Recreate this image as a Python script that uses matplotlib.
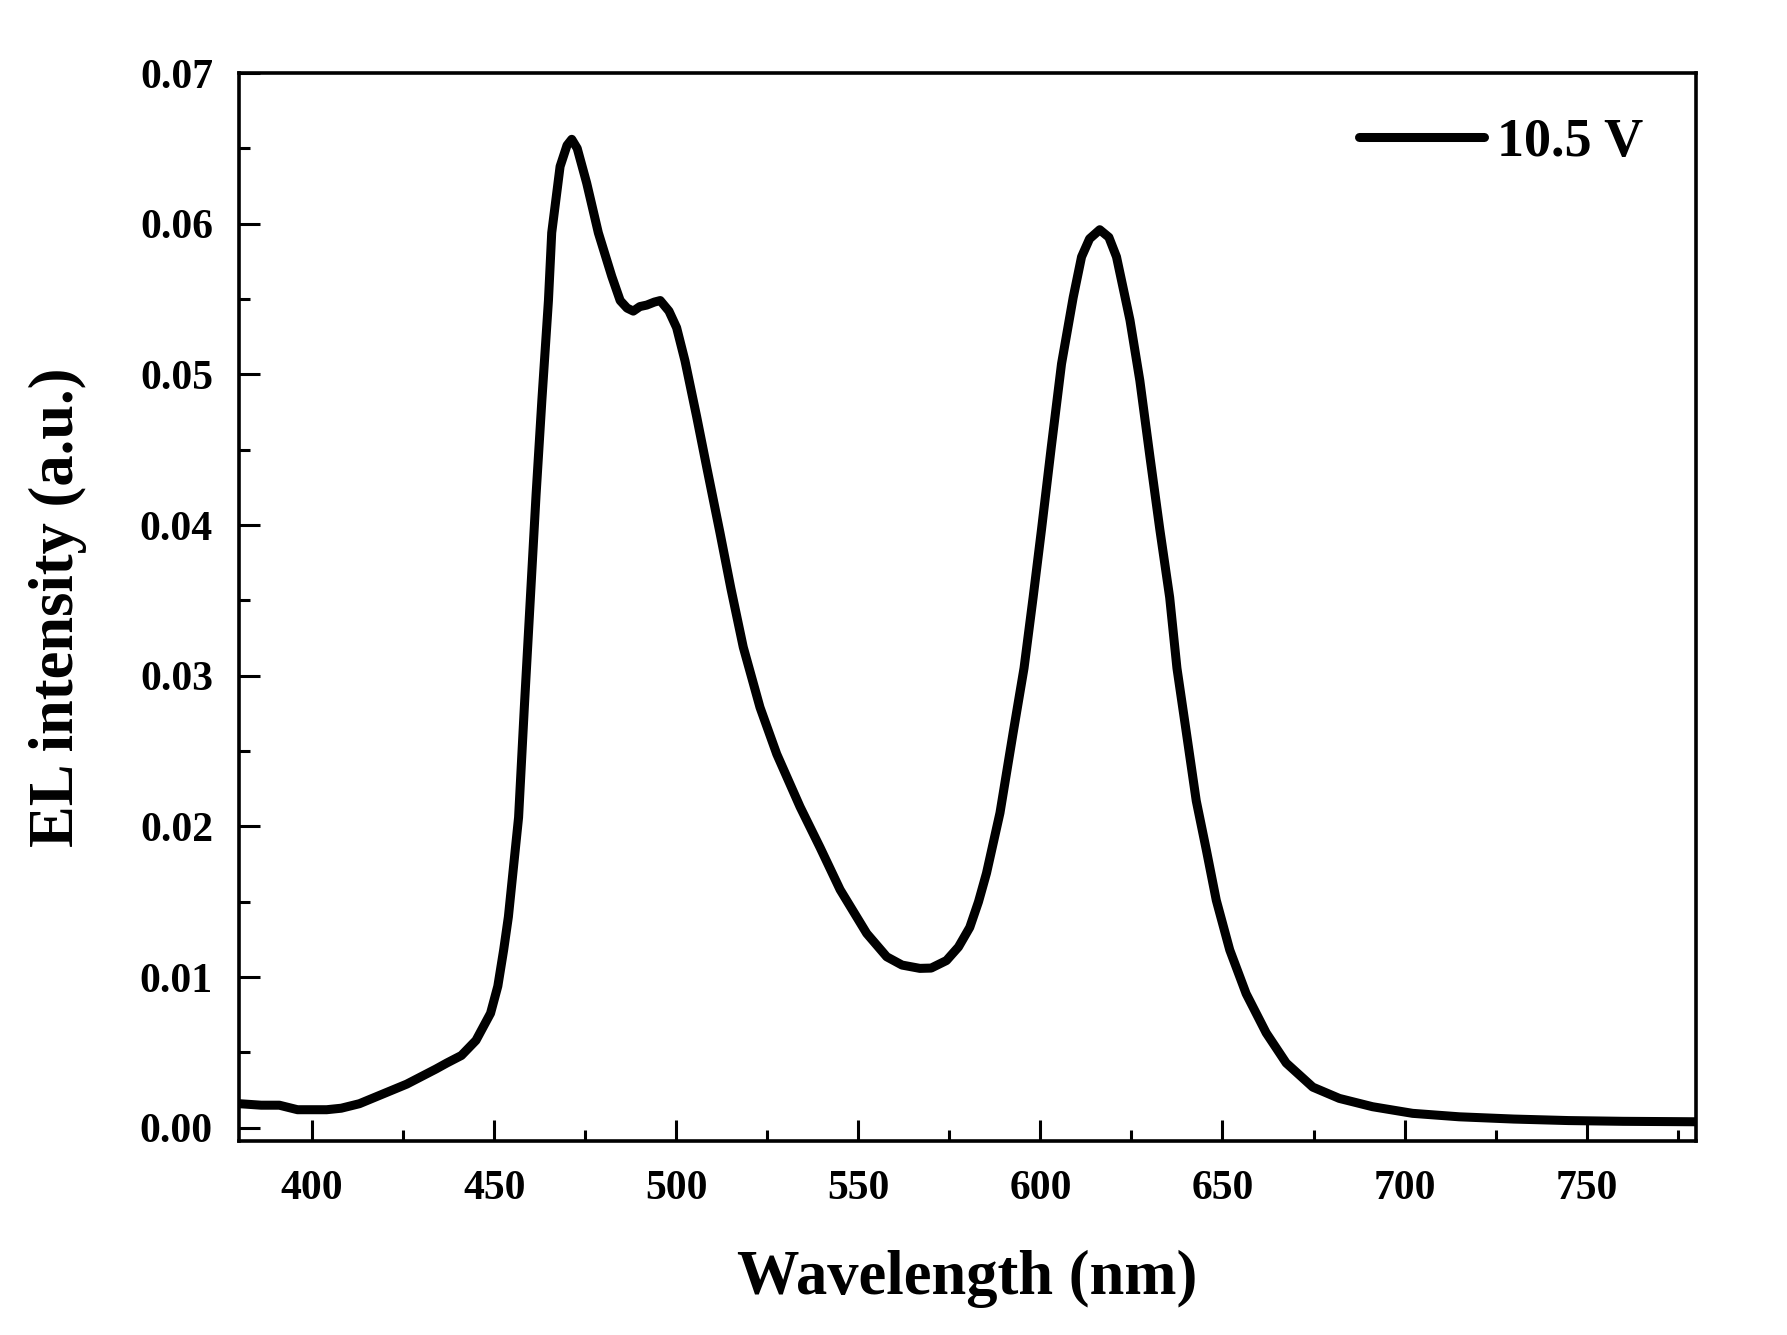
import matplotlib
matplotlib.use("Agg")
import matplotlib.pyplot as plt
from matplotlib.ticker import MultipleLocator, FormatStrFormatter

plt.rcParams['font.family'] = ['Liberation Serif', 'DejaVu Serif']
plt.rcParams['font.weight'] = 'bold'

# EL spectrum at 10.5 V
wavelength = [380, 386, 391, 396, 400, 404, 408, 413, 419, 426, 430, 434, 437, 441, 445,
              449, 451, 452.6, 453.9, 455.3, 456.7, 458.3, 459.9, 461.5, 463.1, 464.9,
              465.8, 468.1, 470, 471.3, 472.8, 475.4, 478.6, 482.3, 484.6, 486.5, 488.2,
              490, 491.9, 494, 495.6, 498, 500.1, 502.4, 505.6, 508.4, 512, 515, 518.4,
              523, 527.6, 534, 539.5, 545, 552.3, 557.8, 562, 566.9, 570, 574.2, 577.5,
              580.6, 583, 585.2, 588.9, 592.5, 595.5, 598, 600.3, 603, 605.8, 609, 611.3,
              613.5, 616.3, 618.8, 620.9, 624.6, 627.3, 630.1, 632.8, 635.5, 637.5, 640.1,
              642.8, 645.6, 648.3, 652, 656.5, 662, 667.5, 674.8, 682.1, 691.2, 702.2,
              715, 730, 745, 760, 780]
intensity = [0.0016, 0.0015, 0.0015, 0.0012, 0.0012, 0.0012, 0.0013, 0.0016, 0.0022, 0.0029,
             0.0034, 0.0039, 0.0043, 0.0048, 0.0058, 0.0076, 0.0094, 0.0118, 0.0140, 0.0173,
             0.0206, 0.0280, 0.0350, 0.0420, 0.0483, 0.0549, 0.0594, 0.0638, 0.0652, 0.0656,
             0.0650, 0.0627, 0.0594, 0.0565, 0.0549, 0.0544, 0.0542, 0.0545, 0.0546, 0.0548,
             0.0549, 0.0542, 0.0531, 0.0509, 0.0472, 0.0438, 0.0395, 0.0358, 0.0319, 0.0279,
             0.0248, 0.0213, 0.0186, 0.0158, 0.0129, 0.01135, 0.0108, 0.01058, 0.0106, 0.0111,
             0.0120, 0.0133, 0.0150, 0.0169, 0.0209, 0.0262, 0.0305, 0.0352, 0.0397, 0.0452,
             0.0507, 0.0551, 0.0578, 0.0590, 0.0596, 0.0591, 0.0578, 0.0536, 0.0496, 0.0445,
             0.0397, 0.0352, 0.0305, 0.0262, 0.0217, 0.0184, 0.0151, 0.0118, 0.0089, 0.0063,
             0.0043, 0.0027, 0.00195, 0.0014, 0.00096, 0.00073, 0.00058, 0.00048, 0.00043,
             0.0004]
series_label = '10.5 V'

fig = plt.figure(figsize=(17.87, 13.35), dpi=100, facecolor='white')
ax = fig.add_axes([0.1339, 0.1455, 0.8151, 0.7998])

ax.plot(wavelength, intensity, color='black', lw=6.5, solid_joinstyle='round',
        solid_capstyle='round', label=series_label)

ax.set_xlim(380, 780)
ax.set_ylim(-0.00086, 0.07)
ax.xaxis.set_major_locator(MultipleLocator(50))
ax.xaxis.set_minor_locator(MultipleLocator(25))
ax.yaxis.set_major_locator(MultipleLocator(0.01))
ax.yaxis.set_minor_locator(MultipleLocator(0.005))
ax.yaxis.set_major_formatter(FormatStrFormatter('%.2f'))

ax.tick_params(which='both', direction='in', top=False, right=False, width=2.2,
               labelsize=30)
ax.tick_params(which='major', length=15)
ax.tick_params(which='minor', length=8)
ax.tick_params(axis='x', pad=21)
ax.tick_params(axis='y', pad=19)
for s in ax.spines.values():
    s.set_linewidth(2.6)

ax.set_xlabel('Wavelength (nm)', fontsize=45, fontweight='bold', labelpad=30)
ax.set_ylabel('EL intensity (a.u.)', fontsize=45, fontweight='bold', labelpad=38)

ax.legend(loc='center left', bbox_to_anchor=(0.7605, 0.8929), bbox_transform=fig.transFigure,
          frameon=False, fontsize=39, handlelength=2.3, handletextpad=0.24, borderpad=0,
          borderaxespad=0)

fig.savefig('out.png', dpi=100, facecolor='white')
